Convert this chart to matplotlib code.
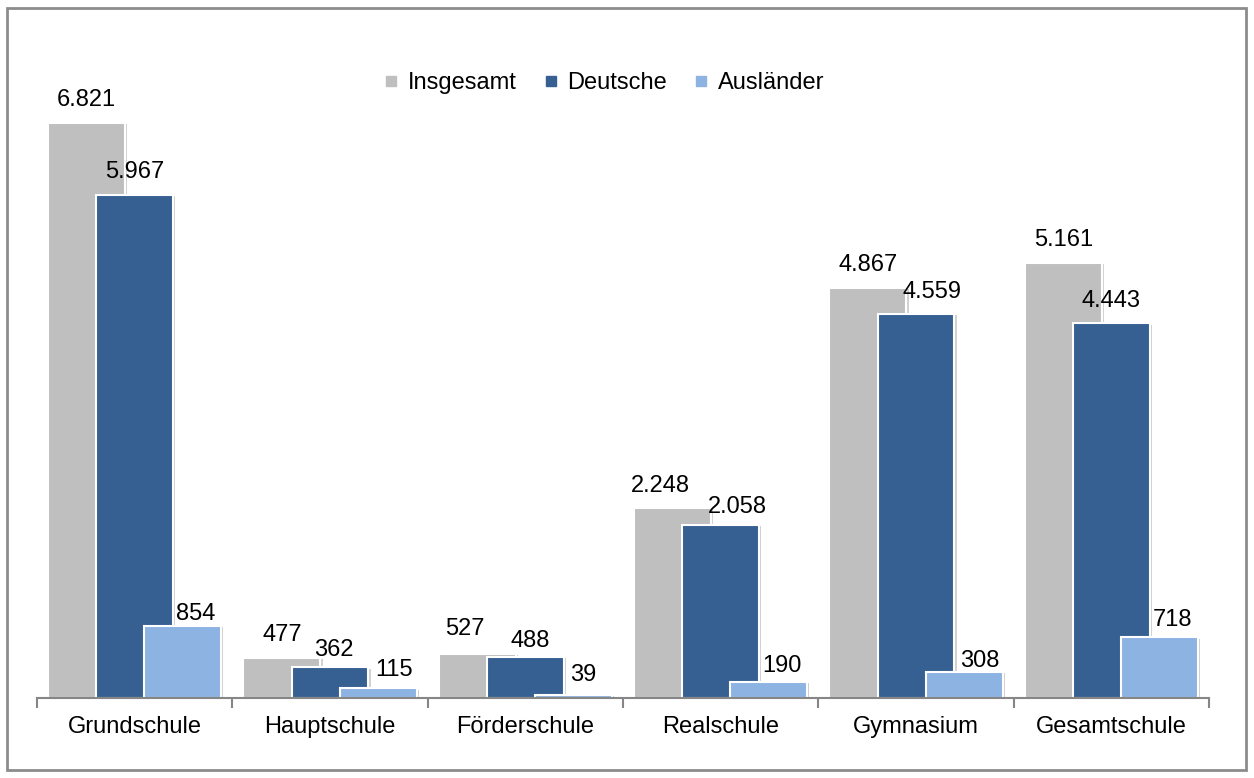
import numpy as np
import matplotlib.pyplot as plt
import matplotlib.patheffects as pe
from matplotlib.lines import Line2D
from matplotlib.patches import Rectangle

plt.rcParams['font.family'] = ['Liberation Sans', 'DejaVu Sans']

schools = ['Grundschule', 'Hauptschule', 'Förderschule', 'Realschule', 'Gymnasium', 'Gesamtschule']
insgesamt = [6821, 477, 527, 2248, 4867, 5161]
deutsche = [5967, 362, 488, 2058, 4559, 4443]
auslaender = [854, 115, 39, 190, 308, 718]

series = [('Insgesamt', insgesamt, '#bfbfbf'),
          ('Deutsche', deutsche, '#366092'),
          ('Ausländer', auslaender, '#8db3e2')]

# label nudges as in the original (dx px, gap px above bar); default (0, 17)
nudge = {
    ('Insgesamt', 2): (-12, 19), ('Insgesamt', 3): (-12, 16),
    ('Deutsche', 1): (4, 11), ('Deutsche', 2): (5, 10), ('Deutsche', 3): (17, 12),
    ('Deutsche', 4): (16, 16), ('Deutsche', 5): (0, 16),
    ('Ausländer', 0): (13, 6), ('Ausländer', 1): (16, 12), ('Ausländer', 2): (10, 14),
    ('Ausländer', 3): (13, 10), ('Ausländer', 4): (16, 5), ('Ausländer', 5): (13, 11),
}

def fmt(v):
    return f"{v:,}".replace(',', '.')

fig = plt.figure(figsize=(12.54, 7.78), dpi=100)
ax = fig.add_axes([37/1254, 1 - 698/778, (1209 - 37)/1254, 674.4/778])

x = np.arange(len(schools))
width = 0.394
offsets = [-0.246, 0.0, 0.246]
shadow = [pe.SimplePatchShadow(offset=(1.5, -1), shadow_rgbFace='#000000', alpha=0.18), pe.Normal()]

for (name, vals, col), off in zip(series, offsets):
    bars = ax.bar(x + off, vals, width, color=col, edgecolor='white', linewidth=1.5, zorder=2)
    for b in bars:
        b.set_path_effects(shadow)
    for i, (b, v) in enumerate(zip(bars, vals)):
        dx, gap = nudge.get((name, i), (0, 17))
        ax.annotate(fmt(v), (b.get_x() + b.get_width()/2, v), xytext=(dx*0.72, gap*0.72),
                    textcoords='offset points', ha='center', va='baseline', fontsize=17)

ax.set_xlim(-0.5, len(schools) - 0.5)
ax.set_ylim(0, 8000)
for s in ['top', 'right', 'left']:
    ax.spines[s].set_visible(False)
ax.spines['bottom'].set_color('#868686')
ax.spines['bottom'].set_linewidth(1.5)
ax.spines['bottom'].set_zorder(3)
ax.set_yticks([])
ax.set_xticks(x)
ax.set_xticklabels(schools, fontsize=17)
ax.tick_params(axis='x', which='major', length=0, pad=13)
ax.set_xticks(np.arange(-0.5, len(schools)), minor=True)
ax.tick_params(axis='x', which='minor', length=7, width=1.5, color='#868686')

handles = [Line2D([], [], marker='s', linestyle='', markersize=7, color=c) for _, _, c in series]
fig.legend(handles, [n for n, _, _ in series], loc='center', bbox_to_anchor=(602/1254, 1 - 83/778),
           ncol=3, frameon=False, fontsize=17, handletextpad=0.2, columnspacing=0.95,
           handlelength=1.0)

fig.patches.append(Rectangle((7/1254, 1 - 770/778), 1239/1254, 762/778, transform=fig.transFigure,
                             fill=False, edgecolor='#8c8c8c', linewidth=2))

fig.savefig('out.png', dpi=100)
